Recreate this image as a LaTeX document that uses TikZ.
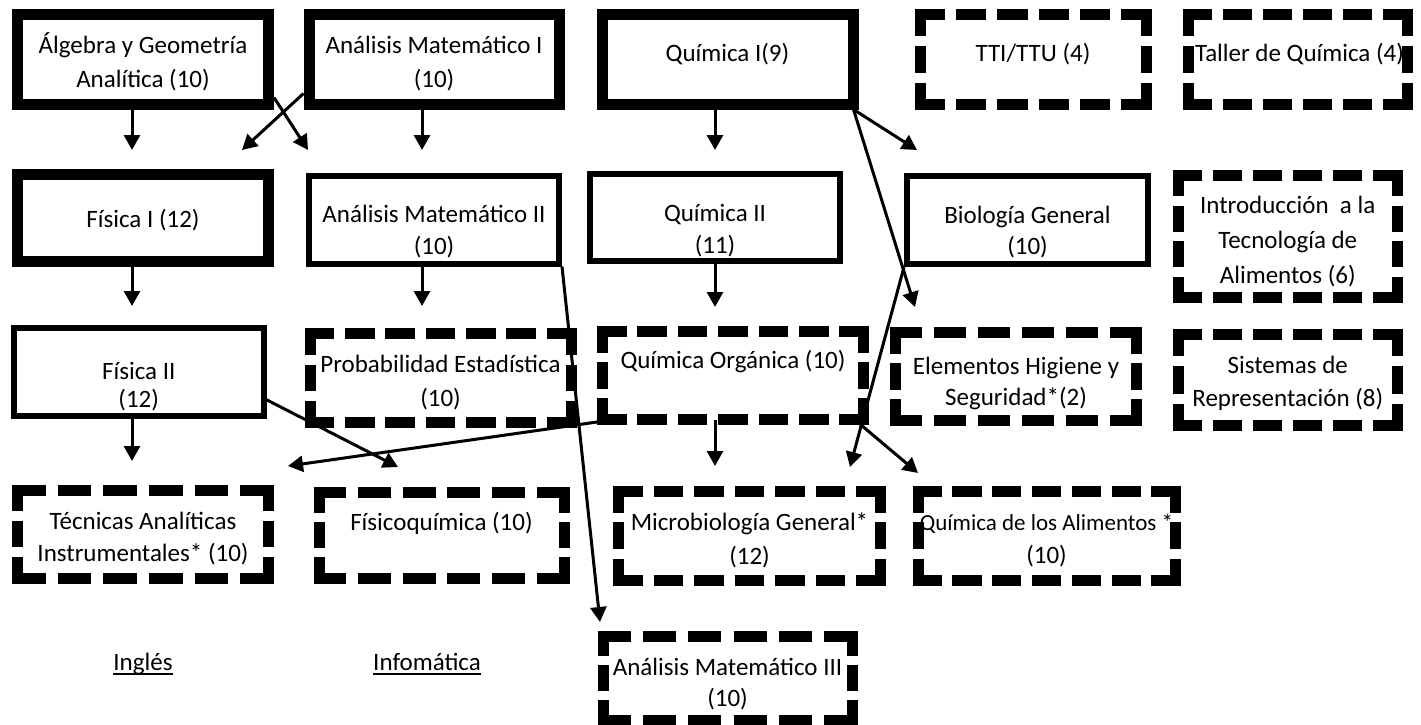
\documentclass[tikz,border=0pt]{standalone}
\usepackage{fontspec}
\setmainfont{Carlito}
\usetikzlibrary{arrows.meta}
\tikzset{
  boxbase/.style={rectangle, inner sep=0pt, draw=black},
  thickbox/.style={boxbase, line width=11pt},
  midbox/.style={boxbase, line width=6pt},
  hollow/.style={rectangle, inner sep=0pt, outer sep=0pt, draw=none},
  dashline/.style={line width=11pt, draw=black},
  txt/.style={anchor=base, inner sep=0pt, font=\fontsize{25}{35}\selectfont},
  smalltxt/.style={anchor=base, inner sep=0pt, font=\fontsize{23}{35}\selectfont},
  arr/.style={line width=3pt, -{Triangle[width=16pt,length=15pt]}},
}
\newcommand{\mybox}[5]{\node[#1, minimum width=#4pt, minimum height=#5pt] (#2) at (#3) {};}
\newcommand{\dashside}[3]{%
  \pgfmathsetmacro{\dsL}{#3+11}%
  \pgfmathsetmacro{\dsN}{max(1,round((\dsL+12)/45+0.3))}%
  \pgfmathsetmacro{\dsK}{\dsL/(\dsN*33+(\dsN-1)*12)}%
  \pgfmathsetmacro{\dsD}{33*\dsK}%
  \pgfmathsetmacro{\dsG}{12*\dsK}%
  \draw[dashline, dash pattern=on \dsD pt off \dsG pt] #1 -- #2;%
}
\newcommand{\dbox}[4]{%
  \node[hollow, minimum width=#3pt, minimum height=#4pt] (#1) at (#2) {};%
  \dashside{([xshift=-5.5pt]#1.north west)}{([xshift=5.5pt]#1.north east)}{#3}%
  \dashside{([xshift=-5.5pt]#1.south west)}{([xshift=5.5pt]#1.south east)}{#3}%
  \dashside{([yshift=5.5pt]#1.north west)}{([yshift=-5.5pt]#1.south west)}{#4}%
  \dashside{([yshift=5.5pt]#1.north east)}{([yshift=-5.5pt]#1.south east)}{#4}%
}
\begin{document}
\begin{tikzpicture}[x=1pt,y=-1pt]
\useasboundingbox (0,0) rectangle (1421,725);
% row 1
\mybox{thickbox}{alg}{143,59.5}{251}{89}
\mybox{thickbox}{am1}{434,59.5}{250}{89}
\mybox{thickbox}{q1}{727.5,59.5}{251}{89}
\dbox{tti}{1033,59.5}{226}{89}
\dbox{taller}{1297.5,59.5}{219}{89}
% row 2
\mybox{thickbox}{fis1}{143,217.75}{251}{87.5}
\mybox{midbox}{am2}{434,219.5}{250}{88}
\mybox{midbox}{q2}{715,217.5}{250}{87}
\mybox{midbox}{bio}{1027.5,220}{241}{88}
\dbox{intro}{1287.75,236.5}{218.5}{122}
% row 3
\mybox{midbox}{fis2}{138.75,371.75}{249.5}{88.5}
\dbox{prob}{440.5,378}{261}{89}
\dbox{qorg}{733,375.5}{261}{88}
\dbox{elem}{1016,376.5}{241}{88}
\dbox{sis}{1287.75,379.75}{218.5}{91.5}
% row 4
\dbox{tec}{143,534.25}{251}{87.5}
\dbox{fisq}{441.5,535}{245}{86}
\dbox{micro}{749.5,535.75}{262}{88.5}
\dbox{qal}{1046.5,535.75}{257}{88.5}
% row 5
\dbox{am3}{727.5,678}{249}{84}

% texts
\node[txt] (alg-a) at (143,53) {Álgebra y Geometría};
\node[txt] (alg-b) at (143,88) {Analítica (10)};
\node[txt] (am1-a) at (434,53) {Análisis Matemático I};
\node[txt] (am1-b) at (434,88) {(10)};
\node[txt] (q1-a) at (727.5,62) {Química I(9)};
\node[txt] (tti-a) at (1033,62) {TTI/TTU (4)};
\node[txt] (taller-a) at (1299.5,62) {Taller de Química (4)};
\node[txt] (fis1-a) at (143,227) {Física I (12)};
\node[txt] (am2-a) at (434,222) {Análisis Matemático II};
\node[txt] (am2-b) at (434,254) {(10)};
\node[txt] (q2-a) at (715,221) {Química II};
\node[txt] (q2-b) at (715,253) {(11)};
\node[txt] (bio-a) at (1027.5,223) {Biología General};
\node[txt] (bio-b) at (1027.5,254) {(10)};
\node[txt] (intro-a) at (1287.75,213) {Introducción~ a la};
\node[txt] (intro-b) at (1287.75,248) {Tecnología de};
\node[txt] (intro-c) at (1287.75,283) {Alimentos (6)};
\node[txt] (fis2-a) at (138.75,379) {Física II};
\node[txt] (fis2-b) at (138.75,407) {(12)};
\node[txt] (prob-a) at (440.5,372) {Probabilidad Estadística};
\node[txt] (prob-b) at (440.5,406) {(10)};
\node[txt] (qorg-a) at (733,368) {Química Orgánica (10)};
\node[txt] (elem-a) at (1016,374) {Elementos Higiene y};
\node[txt] (elem-b) at (1016,405) {Seguridad*(2)};
\node[txt] (sis-a) at (1287.75,373) {Sistemas de};
\node[txt] (sis-b) at (1287.75,406) {Representación (8)};
\node[txt] (tec-a) at (143,529) {Técnicas Analíticas};
\node[txt] (tec-b) at (143,561) {Instrumentales* (10)};
\node[txt] (fisq-a) at (441.5,530) {Físicoquímica (10)};
\node[txt] (micro-a) at (749.5,530) {Microbiología General*};
\node[txt] (micro-b) at (749.5,564) {(12)};
\node[smalltxt] (qal-a) at (1046.5,530) {Química de los Alimentos *};
\node[txt] (qal-b) at (1046.5,563) {(10)};
\node[txt] (am3-a) at (727.5,675) {Análisis Matemático III};
\node[txt] (am3-b) at (727.5,706) {(10)};
\node[txt] (ing) at (143,670) {Inglés};
\node[txt] (inf) at (427,670) {Infomática};
\draw[line width=1.5pt] ([yshift=-4pt]ing.base west) -- ([yshift=-4pt]ing.base east);
\draw[line width=1.5pt] ([yshift=-4pt]inf.base west) -- ([yshift=-4pt]inf.base east);

% arrow tips
\coordinate (t1) at (132,150);
\coordinate (t2) at (242,150);
\coordinate (t3) at (308,150);
\coordinate (t4) at (422,150);
\coordinate (t5) at (715,150);
\coordinate (t6) at (917,150);
\coordinate (t7) at (915,307);
\coordinate (t8) at (600,622);
\coordinate (t9) at (422,306);
\coordinate (t10) at (715,307);
\coordinate (t11) at (132,306);
\coordinate (t12) at (850,467);
\coordinate (t13) at (715,466);
\coordinate (t14) at (918,473);
\coordinate (t15) at (288,466);
\coordinate (t16) at (398,467);
\coordinate (t17) at (132,461);

\draw[arr] ([xshift=-11pt]alg.south) -- (t1);
\draw[arr] ([yshift=16pt]am1.south west) -- (t2);
\draw[arr] ([yshift=12pt]alg.south east) -- (t3);
\draw[arr] ([xshift=-12pt]am1.south) -- (t4);
\draw[arr] ([xshift=-12.5pt]q1.south) -- (t5);
\draw[arr] ([xshift=-5pt]q1.south east) -- (t6);
\draw[arr] ([xshift=-5pt]q1.south east) -- (t7);
\draw[arr] (am2.south east) -- (t8);
\draw[arr] ([xshift=-12pt]am2.south) -- (t9);
\draw[arr] (q2.south) -- (t10);
\draw[arr] ([xshift=-11pt]fis1.south) -- (t11);
\draw[arr] (bio.south west) -- (t12);
\draw[arr] ([xshift=-18pt]qorg.south) -- (t13);
\draw[arr] ([xshift=-9pt]qorg.south east) -- (t14);
\draw[arr] ([xshift=12pt]qorg.south west) -- (t15);
\draw[arr] ([yshift=-28pt]fis2.east) -- (t16);
\draw[arr] ([xshift=-6.75pt]fis2.south) -- (t17);
\end{tikzpicture}
\end{document}
